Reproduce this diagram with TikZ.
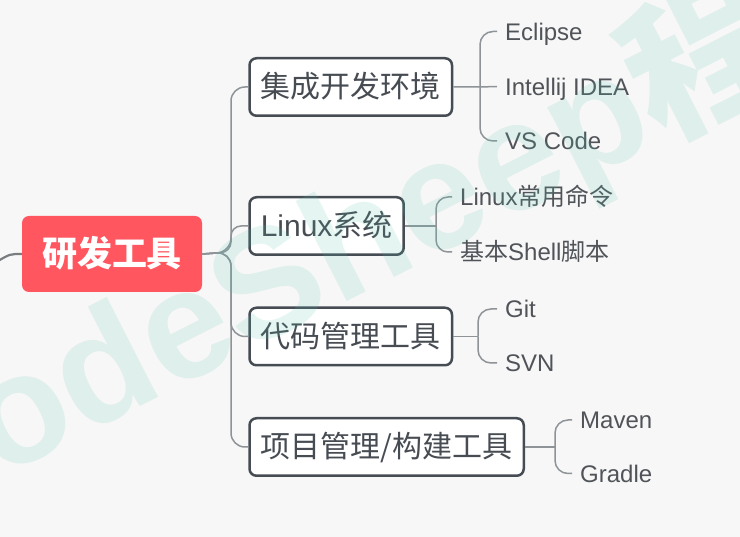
\documentclass[tikz,border=0pt]{standalone}
\usepackage{fontspec}
\setmainfont{Liberation Sans}
\newfontfamily\cjk{Noto Sans CJK SC}
\definecolor{bg}{HTML}{F7F7F7}
\definecolor{rootred}{HTML}{FF5660}
\definecolor{boxborder}{HTML}{464C54}
\definecolor{textgray}{HTML}{474C53}
\definecolor{leafgray}{HTML}{505459}
\definecolor{linegray}{HTML}{8E9397}
\definecolor{wmteal}{HTML}{57C2AE}
\begin{document}
\begin{tikzpicture}[x=1pt,y=-1pt,
  conn/.style={draw=linegray, line width=1.5pt},
  rootconn/.style={draw=linegray!85!black, line width=2.2pt},
  mainbox/.style={draw=boxborder, line width=2.5pt, fill=white, rounded corners=7pt,
    text=textgray, font=\fontsize{30}{30}\selectfont, inner xsep=11.25pt, inner ysep=0pt,
    text height=21.5pt, text depth=0pt, minimum height=57.5pt, anchor=west},
  leaf/.style={text=leafgray, font=\fontsize{24}{24}\selectfont, inner xsep=8pt, inner ysep=2pt,
    text height=17.2pt, text depth=0pt, anchor=west},
]
\fill[bg] (0,0) rectangle (740,537);
\useasboundingbox (0,0) rectangle (740,537);

% root
\node[fill=rootred, rounded corners=7pt, text=white, minimum width=180pt, minimum height=76pt,
  inner sep=0pt, text height=25pt, text depth=0pt,
  font=\fontsize{35}{35}\selectfont\cjk\bfseries] (root) at (112,254) {研发工具};
\coordinate (inl) at (-2,261);
\draw[rootconn] (inl) .. controls (10,254) .. (root.west);

% main nodes
\node[mainbox] (n1) at (248.25,87) {\cjk 集成开发环境};
\node[mainbox] (n2) at (248.25,226) {Linux{\cjk 系统}};
\node[mainbox] (n3) at (248.25,336.5) {\cjk 代码管理工具};
\node[mainbox] (n4) at (248.25,447) {\cjk 项目管理/构建工具};

\coordinate (jr) at (231,252);
\draw[conn, rounded corners=14pt] (root.east) -- (jr) |- (n1.west);
\draw[conn, rounded corners=10pt] (root.east) -- (jr) |- (n2.west);
\draw[conn, rounded corners=14pt] (root.east) -- (jr) |- (n3.west);
\draw[conn, rounded corners=14pt] (root.east) -- (jr) |- (n4.west);

% leaves group 1
\node[leaf] (l11) at (497,31.5) {Eclipse};
\node[leaf] (l12) at (497,86.5) {Intellij IDEA};
\node[leaf] (l13) at (497,141) {VS Code};
\coordinate (j1) at (480,87);
\draw[conn] (n1.east) -- (j1) -- (l12.west);
\draw[conn, rounded corners=13pt] (j1) |- (l11.west);
\draw[conn, rounded corners=13pt] (j1) |- (l13.west);

% leaves group 2
\node[leaf] (l21) at (452,197) {Linux{\cjk 常用命令}};
\node[leaf] (l22) at (452,252) {{\cjk 基本}Shell{\cjk 脚本}};
\coordinate (j2) at (436,226);
\draw[conn] (n2.east) -- (j2);
\draw[conn, rounded corners=12pt] (j2) |- (l21.west);
\draw[conn, rounded corners=12pt] (j2) |- (l22.west);

% leaves group 3
\node[leaf] (l31) at (497,309) {Git};
\node[leaf] (l32) at (497,363) {SVN};
\coordinate (j3) at (478,336.5);
\draw[conn] (n3.east) -- (j3);
\draw[conn, rounded corners=13pt] (j3) |- (l31.west);
\draw[conn, rounded corners=13pt] (j3) |- (l32.west);

% leaves group 4
\node[leaf] (l41) at (572,420) {Maven};
\node[leaf] (l42) at (572,473.5) {Gradle};
\coordinate (j4) at (555,447);
\draw[conn] (n4.east) -- (j4);
\draw[conn, rounded corners=13pt] (j4) |- (l41.west);
\draw[conn, rounded corners=13pt] (j4) |- (l42.west);

% watermark
\begin{scope}
\clip (0,0) rectangle (740,537);
\node[anchor=base west, rotate=27, inner sep=0pt, text=wmteal, text opacity=0.15,
  font=\fontsize{155}{155}\selectfont\bfseries] (wm) at (-100.5,529.8) {CodeSheep{\cjk\bfseries 程序羊}};
\end{scope}
\end{tikzpicture}
\end{document}
